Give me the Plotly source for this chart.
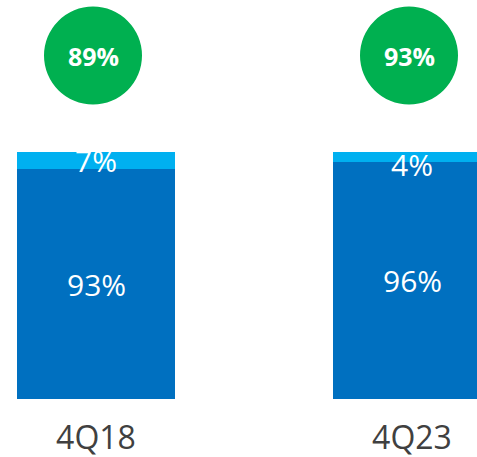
import plotly.graph_objects as go

categories = ["4Q18", "4Q23"]
dark_values = [93, 96]
light_values = [7, 4]
circle_values = [89, 93]

DARK = "#0070C0"
LIGHT = "#00B0F0"
GREEN = "#00B050"
FONT = "Open Sans"

xs = list(range(len(categories)))

fig = go.Figure()
fig.add_trace(go.Bar(x=xs, y=dark_values, marker=dict(color=DARK, line=dict(width=0)),
                     width=0.5, hoverinfo="skip"))
fig.add_trace(go.Bar(x=xs, y=light_values, marker=dict(color=LIGHT, line=dict(width=0)),
                     width=0.5, hoverinfo="skip"))

annotations = []
light_shift = [0, -8]
for i, (d, l) in enumerate(zip(dark_values, light_values)):
    annotations.append(dict(x=i, y=d / 2, xref="x", yref="y", text=f"{d}%", showarrow=False,
                            font=dict(family=FONT, size=30, color="white")))
    annotations.append(dict(x=i, y=d + l / 2, xref="x", yref="y", text=f"{l}%", showarrow=False,
                            yshift=light_shift[i],
                            font=dict(family=FONT, size=30, color="white")))

shapes = []
circle_y = 139
for i, v in enumerate(circle_values):
    shapes.append(dict(type="circle", xref="x", yref="y", xsizemode="pixel", ysizemode="pixel",
                       xanchor=i, yanchor=circle_y, x0=-52, x1=46, y0=-49, y1=49,
                       fillcolor=GREEN, line=dict(width=0), layer="above"))
    annotations.append(dict(x=i, y=circle_y, xref="x", yref="y", text=f"<b>{v}%</b>", showarrow=False,
                            xshift=-3, font=dict(family=FONT, size=25, color="white")))

fig.update_layout(
    barmode="stack",
    width=477, height=457,
    margin=dict(l=0, r=0, t=0, b=58),
    paper_bgcolor="white", plot_bgcolor="white",
    showlegend=False,
    shapes=shapes,
    annotations=annotations,
    xaxis=dict(range=[-0.3038, 1.2057], tickvals=xs, ticktext=categories,
               showgrid=False, zeroline=False, showline=False, ticks="",
               tickfont=dict(family=FONT, size=32, color="#404040"),
               ticklabelstandoff=17),
    yaxis=dict(range=[0, 161.5], visible=False, showgrid=False, zeroline=False),
)

fig.write_html("out.html", config={"displayModeBar": False},
               post_script="document.body.style.margin='0';document.body.style.overflow='hidden';")
